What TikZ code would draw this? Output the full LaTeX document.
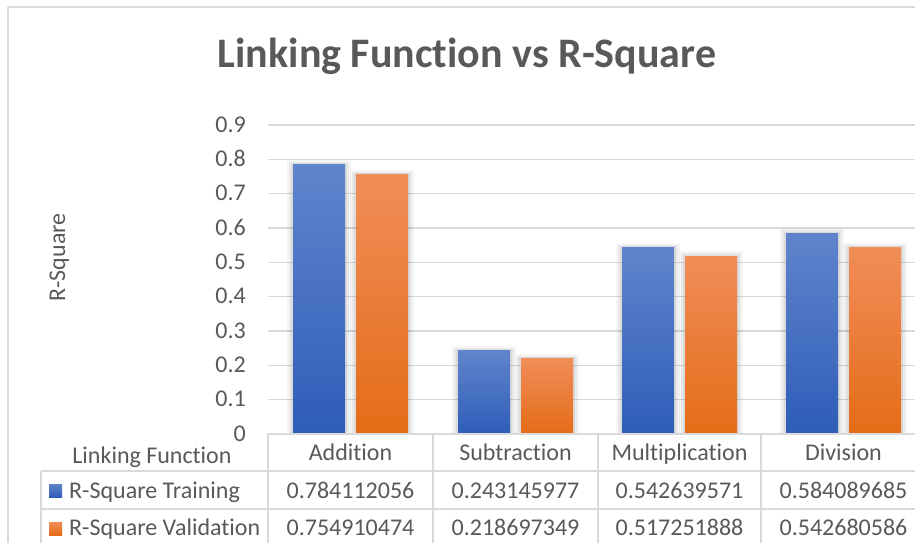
\documentclass[tikz,border=0pt]{standalone}
\usepackage{fontspec}
\setmainfont{Carlito}[Ligatures={NoCommon}]
\definecolor{txt}{HTML}{595959}
\definecolor{gridc}{HTML}{D9D9D9}
\definecolor{btop}{HTML}{6084CC}
\definecolor{bmid}{HTML}{4170C9}
\definecolor{bbot}{HTML}{2E5DB8}
\definecolor{otop}{HTML}{F18D59}
\definecolor{omid}{HTML}{F47E30}
\definecolor{obot}{HTML}{E46C17}
\newcommand\mybar[5]{%
  \fill[black,opacity=0.035] ({#1-32},{434-#2*343.3-5}) rectangle ({#1+32},434);
  \fill[black,opacity=0.05] ({#1-30},{434-#2*343.3-3}) rectangle ({#1+30},434);
  \fill[black,opacity=0.06] ({#1-28},{434-#2*343.3-1.5}) rectangle ({#1+28},434);
  \shade[top color=#3, middle color=#4, bottom color=#5] ({#1-26},{434-#2*343.3}) rectangle ({#1+26},434);
}
\tikzset{
  lab/.style={text=txt, font=\fontsize{24}{28}\selectfont, inner sep=0pt},
  gl/.style={draw=gridc, line width=1.4pt},
}
\begin{document}
\begin{tikzpicture}[x=1pt,y=-1pt]
\useasboundingbox (0,0) rectangle (915,542);
\clip (0,0) rectangle (915,542);
\fill[white] (0,0) rectangle (915,542);
% outer chart border
\draw[gl] (8,7) -- (940,7);
\draw[gl] (8,7) -- (8,560);
% title
\node[lab, font=\fontsize{42}{48}\selectfont\bfseries, anchor=base] (title) at (467,67) {Linking Function vs R-Square};
% gridlines and y labels
\foreach \i in {1,...,9} {
  \draw[gl] (268,{434-\i*34.33}) -- (940,{434-\i*34.33});
  \node[lab, anchor=base east] (y\i) at (246,{434-\i*34.33+7}) {0.\i};
}
\node[lab, anchor=base east] (y0) at (246,441) {0};
% axis title
\node[lab, rotate=90, anchor=base] (ytitle) at (65,257.5) {R-Square};
% bars
\mybar{319}{0.784112056}{btop}{bmid}{bbot}
\mybar{382}{0.754910474}{otop}{omid}{obot}
\mybar{484}{0.243145977}{btop}{bmid}{bbot}
\mybar{547}{0.218697349}{otop}{omid}{obot}
\mybar{648}{0.542639571}{btop}{bmid}{bbot}
\mybar{711}{0.517251888}{otop}{omid}{obot}
\mybar{812}{0.584089685}{btop}{bmid}{bbot}
\mybar{875}{0.542680586}{otop}{omid}{obot}
% table lines
\draw[gl] (268,434) -- (940,434);
\draw[gl] (41,471) -- (940,471);
\draw[gl] (41,509) -- (940,509);
\draw[gl] (41,471) -- (41,560);
\foreach \x in {268,433,598,761} \draw[gl] (\x,434) -- (\x,560);
% header
\node[lab, anchor=base] (lf) at (152,463) {Linking Function};
\node[lab, anchor=base] (c1) at (350.5,460) {Addition};
\node[lab, anchor=base] (c2) at (515.5,460) {Subtraction};
\node[lab, anchor=base] (c3) at (679.5,460) {Multiplication};
\node[lab, anchor=base] (c4) at (843.5,460) {Division};
% legend keys
\shade[top color=btop, bottom color=bbot] (49,484) rectangle (62,497);
\shade[top color=otop, bottom color=obot] (49,522) rectangle (62,535);
\node[lab, anchor=base west] (l1) at (69,498) {R-Square Training};
\node[lab, anchor=base west] (l2) at (69,535) {R-Square Validation};
% values
\node[lab, anchor=base] (t1) at (350.5,498) {0.784112056};
\node[lab, anchor=base] (t2) at (515.5,498) {0.243145977};
\node[lab, anchor=base] (t3) at (679.5,498) {0.542639571};
\node[lab, anchor=base] (t4) at (843.5,498) {0.584089685};
\node[lab, anchor=base] (v1) at (350.5,535) {0.754910474};
\node[lab, anchor=base] (v2) at (515.5,535) {0.218697349};
\node[lab, anchor=base] (v3) at (679.5,535) {0.517251888};
\node[lab, anchor=base] (v4) at (843.5,535) {0.542680586};
\end{tikzpicture}
\end{document}
